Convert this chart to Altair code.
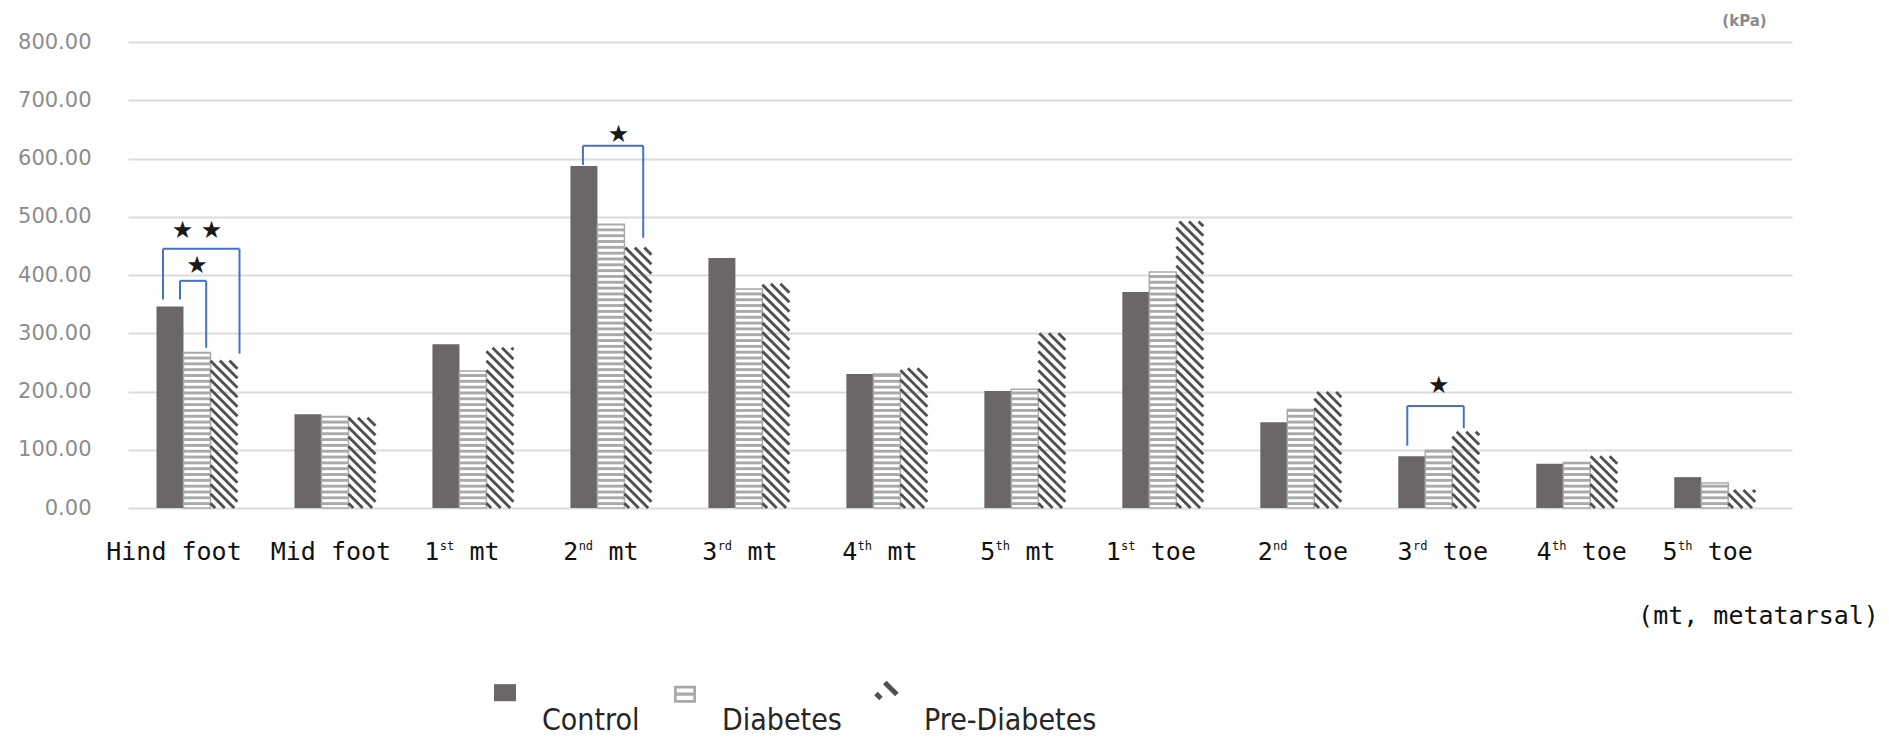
import math
import altair as alt
import pandas as pd

# ---------------- data ----------------
categories = ["Hind foot", "Mid foot", "1st mt", "2nd mt", "3rd mt", "4th mt",
              "5th mt", "1st toe", "2nd toe", "3rd toe", "4th toe", "5th toe"]
label_num = ["", "", "1", "2", "3", "4", "5", "1", "2", "3", "4", "5"]
label_sup = ["", "", "st", "nd", "rd", "th", "th", "st", "nd", "rd", "th", "th"]
label_word = ["Hind foot", "Mid foot", "mt", "mt", "mt", "mt", "mt",
              "toe", "toe", "toe", "toe", "toe"]
groups = ["Control", "Diabetes", "Pre-Diabetes"]
control = [346, 161, 281, 587, 429, 230, 201, 371, 147, 89, 76, 53]
diabetes = [267, 157, 235, 487, 376, 230, 204, 405, 169, 99, 78, 43]
pre_diabetes = [253, 155, 275, 447, 385, 240, 300, 492, 199, 131, 89, 31]
y_ticks = [0, 100, 200, 300, 400, 500, 600, 700, 800]

# significance brackets
sig_category = [0, 0, 3, 9]
sig_from = ["Control", "Control", "Control", "Control"]
sig_to = ["Pre-Diabetes", "Diabetes", "Pre-Diabetes", "Pre-Diabetes"]
sig_top = [445, 390, 622, 175]
sig_from_end = [358, 358, 589, 107]
sig_to_end = [265, 275, 464, 137]
sig_stars = ["★  ★", "★", "★", "★"]
sig_star_value = [476, 415, 640, 210]

# ---------------- layout / style ----------------
W, H = 1664, 466
X_DOMAIN = [-0.5, 11.56]
PXX = W / (X_DOMAIN[1] - X_DOMAIN[0])   # px per category unit
PXY = H / 800.0                          # px per kPa
BAR_PX = 27
BW = BAR_PX / PXX
GROUP_OFF = {"Control": -BW, "Diabetes": 0.0, "Pre-Diabetes": BW}
LEG_NUDGE_FROM = [-7, 10, -1, -4.5]     # px, bracket leg nudges
LEG_NUDGE_TO = [15.5, 9.2, 5.3, -2]
STAR_NUDGE = [0, 0, 7.7, 0]
LABEL_NUDGE = [-23, -4, -11, -10, -9, -7, -7, -12, 2, 4, 5, -7]   # px
LABEL_FS = 25
CELL = 0.602 * LABEL_FS

C_CONTROL = "#6b6768"
C_DIAB = "#a9a9a9"
C_PRE = "#505050"
C_BLUE = "#4472c4"

series = {"Control": control, "Diabetes": diabetes, "Pre-Diabetes": pre_diabetes}

bars = []
for g in groups:
    for i, v in enumerate(series[g]):
        c = i + GROUP_OFF[g]
        bars.append({"cat": categories[i], "group": g, "x0": c - BW / 2, "x1": c + BW / 2,
                     "v": v, "base": 0})
bars = pd.DataFrame(bars)

# horizontal stripes of Diabetes bars
STRIPE_P = 10.0
stripes = []
for _, r in bars[bars.group == "Diabetes"].iterrows():
    k = 0
    while k * STRIPE_P < r.v:
        lo = k * STRIPE_P + STRIPE_P / 2
        hi = min((k + 1) * STRIPE_P, r.v)
        if hi > lo:
            stripes.append({"x0": r.x0, "x1": r.x1, "lo": lo, "hi": hi})
        k += 1
stripes = pd.DataFrame(stripes)

# diagonal hatch of Pre-Diabetes bars
HATCH_P = 9.5 / PXY
hatch = []
for _, r in bars[bars.group == "Pre-Diabetes"].iterrows():
    wpx = (r.x1 - r.x0) * PXX
    drop = wpx / PXY
    c = HATCH_P * 0.5
    while c < r.v + drop:
        t0 = max(0.0, (c - r.v) * PXY)
        t1 = min(wpx, c * PXY)
        if t1 - t0 > 0.8:
            hatch.append({"xa": r.x0 + t0 / PXX, "ya": c - t0 / PXY,
                          "xb": r.x0 + t1 / PXX, "yb": c - t1 / PXY})
        c += HATCH_P
hatch = pd.DataFrame(hatch)

# bracket segments and stars
segs, stars = [], []
for j in range(len(sig_category)):
    i = sig_category[j]
    xl = i + GROUP_OFF[sig_from[j]] + LEG_NUDGE_FROM[j] / PXX
    xr = i + GROUP_OFF[sig_to[j]] + LEG_NUDGE_TO[j] / PXX
    segs.append({"xa": xl, "xb": xr, "ya": sig_top[j], "yb": sig_top[j]})
    segs.append({"xa": xl, "xb": xl, "ya": sig_from_end[j], "yb": sig_top[j]})
    segs.append({"xa": xr, "xb": xr, "ya": sig_to_end[j], "yb": sig_top[j]})
    stars.append({"x": i + STAR_NUDGE[j] / PXX, "y": sig_star_value[j], "t": sig_stars[j]})
segs = pd.DataFrame(segs)
stars = pd.DataFrame(stars)

# category labels: number, raised ordinal suffix and word, laid out on a monospace grid
lab_main, lab_sup = [], []
for i in range(len(categories)):
    word = label_word[i]
    if label_num[i]:
        n = 3 + len(word)
        pieces = [(label_num[i], 0.5), (word, 3 + len(word) / 2.0)]
        sup_center = 1.5
    else:
        n = len(word)
        pieces = [(word, n / 2.0)]
        sup_center = None
    for txt, cc in pieces:
        off = LABEL_NUDGE[i] + (cc - n / 2.0) * CELL
        lab_main.append({"x": i + off / PXX, "zero": 0, "t": txt})
    if sup_center is not None:
        off = LABEL_NUDGE[i] + (sup_center - n / 2.0) * CELL
        lab_sup.append({"x": i + off / PXX, "zero": 0, "t": label_sup[i]})
lab_main = pd.DataFrame(lab_main)
lab_sup = pd.DataFrame(lab_sup)

# ---------------- scales / axes ----------------
xscale = alt.Scale(domain=X_DOMAIN, nice=False, zero=False)
yscale = alt.Scale(domain=[0, 800], nice=False)
xaxis = alt.Axis(values=list(range(12)), labels=False,
                 grid=False, domain=False, ticks=False,
                 title="(mt, metatarsal)", titleFont="DejaVu Sans Mono", titleFontSize=25,
                 titleFontWeight="normal", titleColor="#111111",
                 titleX=1630, titleY=107, titleAlign="center", titleBaseline="middle",
                 titleAnchor="start")
yaxis = alt.Axis(values=y_ticks, format=".2f", grid=True, gridColor="#dcdcdc", gridWidth=2,
                 domain=False, ticks=False, labelPadding=37,
                 labelFont="DejaVu Sans", labelFontSize=21, labelColor="#8c8c8c",
                 title="(kPa)", titleAngle=0, titleX=1616, titleY=-22,
                 titleAlign="center", titleBaseline="middle", titleFont="DejaVu Sans",
                 titleFontSize=15, titleFontWeight="bold", titleColor="#8a8a8a",
                 titleAnchor="start")


def X(f):
    return alt.X(f, type="quantitative", scale=xscale, axis=xaxis)


def Y(f):
    return alt.Y(f, type="quantitative", scale=yscale, axis=yaxis)


ctrl_layer = alt.Chart(bars[bars.group == "Control"]).mark_rect(color=C_CONTROL).encode(
    x=X("x0"), x2="x1", y=Y("v"), y2="base")
diab_layer = alt.Chart(bars[bars.group == "Diabetes"]).mark_rect(
    fill="white", stroke=C_DIAB, strokeWidth=1.5).encode(
    x=X("x0"), x2="x1", y=Y("v"), y2="base")
stripe_layer = alt.Chart(stripes).mark_rect(color=C_DIAB).encode(
    x=X("x0"), x2="x1", y=Y("lo"), y2="hi")
hatch_layer = alt.Chart(hatch).mark_rule(color=C_PRE, strokeWidth=2.9, strokeCap="butt").encode(
    x=X("xa"), x2="xb", y=Y("ya"), y2="yb")
seg_layer = alt.Chart(segs).mark_rule(color=C_BLUE, strokeWidth=2).encode(
    x=X("xa"), x2="xb", y=Y("ya"), y2="yb")
star_layer = alt.Chart(stars).mark_text(font="DejaVu Sans", fontSize=24, color="#1a1a1a",
                                        baseline="middle", align="center").encode(
    x=X("x"), y=Y("y"), text="t:N")
lab_layer = alt.Chart(lab_main).mark_text(font="DejaVu Sans Mono", fontSize=LABEL_FS,
                                          color="#111111", baseline="middle", align="center",
                                          dy=44).encode(
    x=X("x"), y=Y("zero"), text="t:N")
sup_layer = alt.Chart(lab_sup).mark_text(font="DejaVu Sans Mono", fontSize=12,
                                         color="#111111", baseline="middle", align="center",
                                         dy=38).encode(
    x=X("x"), y=Y("zero"), text="t:N")


# legend symbols (custom SVG paths, unit box scaled by sqrt(size)/2)
S = 2.6  # upward shift of symbols in units


def rect(x0, y0, x1, y1):
    return f"M{x0:.2f},{y0 - S:.2f}H{x1:.2f}V{y1 - S:.2f}H{x0:.2f}Z"


def bar_seg(px, py, qx, qy, w):
    dx, dy = qx - px, qy - py
    L = math.hypot(dx, dy)
    nx, ny = -dy / L * w / 2, dx / L * w / 2
    pts = [(px + nx, py + ny), (qx + nx, qy + ny), (qx - nx, qy - ny), (px - nx, py - ny)]
    return "M" + "L".join(f"{a:.2f},{b - S:.2f}" for a, b in pts) + "Z"


p_control = rect(-1, -0.75, 1, 0.8)
p_diab = (rect(-1, -0.6, 1, -0.35) + rect(-1, 0.7, 1, 0.95) + rect(-1, -0.6, -0.75, 0.95)
          + rect(0.75, -0.6, 1, 0.95) + rect(-0.75, 0.0, 0.75, 0.3))
p_pre = bar_seg(-0.2, -0.9, 0.9, 0.2, 0.45) + bar_seg(-1.0, 0.1, -0.55, 0.55, 0.45)

leg_props = dict(orient="none", legendX=362, legendY=664, direction="horizontal", title=None,
                 symbolSize=484, symbolStrokeWidth=0,
                 labelFont="DejaVu Sans Condensed, Liberation Sans, sans-serif",
                 labelFontSize=30, labelColor="#262626", labelOffset=22, columnPadding=30,
                 labelLimit=400)
legend_layer = alt.Chart(pd.DataFrame({"group": groups})).transform_filter("false").mark_point(
    filled=True, opacity=1, strokeWidth=0).encode(
    color=alt.Color("group:N", scale=alt.Scale(domain=groups, range=[C_CONTROL, C_DIAB, C_PRE]),
                    legend=alt.Legend(**leg_props)),
    shape=alt.Shape("group:N", scale=alt.Scale(domain=groups, range=[p_control, p_diab, p_pre]),
                    legend=alt.Legend(**leg_props)))

chart = alt.layer(ctrl_layer, diab_layer, stripe_layer, hatch_layer, seg_layer, star_layer,
                  lab_layer, sup_layer, legend_layer).properties(
    width=W, height=H,
    autosize=alt.AutoSizeParams(type="none"),
    padding={"left": 120, "top": 34, "right": 88, "bottom": 230},
    background="white",
).configure_view(stroke=None)

chart.save("out.html", embed_options={"renderer": "svg", "actions": False})
